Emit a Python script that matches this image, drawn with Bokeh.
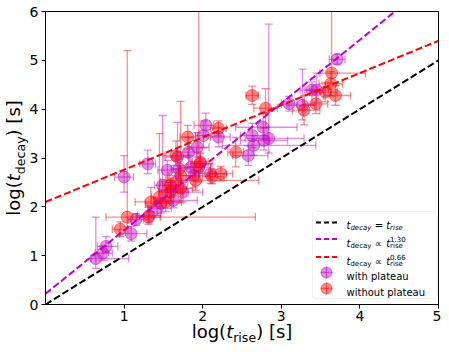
import numpy as np
from bokeh.plotting import figure
from bokeh.models import Label, BoxAnnotation, FixedTicker, Range1d, Title
from bokeh.embed import file_html
from bokeh.resources import INLINE

# ---------------- data (log10 seconds) ----------------
# with plateau
wp_x   = [0.64, 0.73, 0.77, 1.00, 1.09, 1.15, 1.30, 1.32, 1.42, 1.47, 1.49, 1.55, 1.63, 1.66, 1.68, 1.70,
          1.82, 1.85, 1.89, 1.93, 1.97, 2.01, 2.04, 2.10, 2.20, 1.75, 1.60, 2.58, 2.63, 2.65, 2.77, 2.78,
          2.84, 3.10, 3.27, 3.39, 3.45, 3.71]
wp_y   = [0.94, 1.05, 1.19, 2.61, 1.45, 1.74, 2.88, 1.82, 1.97, 2.07, 2.44, 2.75, 2.13, 2.51, 3.02, 2.78,
          3.12, 2.81, 2.64, 3.22, 2.89, 3.46, 3.67, 2.68, 3.43, 2.30, 2.35, 3.05, 3.46, 3.26, 3.63, 3.36,
          3.40, 4.11, 4.08, 4.39, 4.39, 5.02]
wp_xlo = [0.06, 0.10, 0.11, 0.12, 0.15, 0.10, 0.10, 0.15, 0.12, 0.20, 0.10, 0.12, 0.25, 0.20, 0.15, 0.10,
          0.15, 0.15, 0.20, 0.10, 0.12, 0.10, 0.15, 0.15, 0.10, 0.20, 0.15, 0.20, 0.15, 0.40, 0.35, 0.30,
          0.30, 0.10, 0.20, 0.15, 0.15, 0.10]
wp_xhi = [0.42, 0.12, 0.15, 0.12, 0.20, 0.10, 0.10, 0.15, 0.18, 0.15, 0.10, 0.15, 0.30, 0.15, 0.15, 0.20,
          0.10, 0.15, 0.20, 0.15, 0.15, 0.10, 0.10, 0.20, 0.15, 0.25, 0.20, 0.25, 0.20, 0.79, 0.43, 0.30,
          0.45, 0.10, 0.15, 0.15, 0.15, 0.10]
wp_ylo = [0.20, 0.15, 0.12, 0.31, 0.15, 0.12, 0.20, 0.15, 0.15, 0.20, 0.20, 0.20, 0.15, 0.20, 0.25, 0.20,
          0.30, 0.20, 0.25, 0.20, 0.20, 0.25, 0.20, 0.20, 0.20, 0.20, 0.15, 0.20, 0.25, 0.20, 0.25, 0.20,
          0.30, 0.15, 0.30, 0.30, 0.25, 0.10]
wp_yhi = [0.85, 0.15, 0.20, 0.44, 0.15, 0.12, 0.28, 0.20, 0.20, 0.25, 1.43, 0.20, 0.25, 0.20, 0.71, 0.20,
          0.30, 0.25, 0.25, 0.30, 0.20, 0.30, 0.25, 0.20, 0.20, 0.20, 0.15, 0.20, 0.25, 0.20, 0.30, 0.25,
          2.34, 0.15, 0.74, 0.17, 0.35, 0.10]

# without plateau
np_x   = [0.95, 1.04, 1.31, 1.34, 1.45, 1.53, 1.59, 1.59, 1.66, 1.72, 1.72, 1.81, 1.91, 1.95, 1.97, 2.12,
          2.23, 2.20, 2.42, 2.63, 2.80, 3.29, 3.44, 3.56, 3.63, 3.64, 3.69]
np_y   = [1.54, 1.79, 1.79, 2.10, 2.20, 2.10, 2.30, 2.44, 3.05, 2.38, 2.64, 3.43, 2.54, 2.81, 2.92, 2.62,
          2.68, 3.61, 3.12, 4.28, 4.02, 3.98, 4.11, 4.35, 4.52, 4.74, 4.28]
np_xlo = [0.10, 0.27, 0.15, 0.20, 0.10, 0.15, 0.15, 0.10, 0.15, 0.20, 0.15, 0.10, 0.38, 0.15, 0.10, 0.12,
          0.15, 0.10, 0.10, 0.08, 0.15, 0.15, 0.15, 0.20, 0.15, 0.15, 0.15]
np_xhi = [0.10, 1.63, 0.15, 0.20, 0.15, 0.20, 0.15, 0.10, 0.15, 0.15, 0.15, 0.10, 0.80, 0.15, 0.10, 0.15,
          0.15, 0.10, 0.10, 0.08, 0.15, 0.20, 0.15, 0.15, 0.15, 0.43, 0.19]
np_ylo = [0.15, 0.20, 0.15, 0.20, 0.20, 0.20, 0.20, 0.15, 0.20, 0.30, 0.20, 0.25, 0.20, 0.30, 0.20, 0.15,
          0.15, 0.15, 0.30, 0.18, 0.40, 0.30, 0.20, 0.20, 0.25, 0.20, 0.20]
np_yhi = [0.15, 3.41, 0.20, 0.30, 1.30, 0.20, 0.20, 0.15, 0.30, 1.78, 0.20, 0.24, 0.20, 3.50, 0.20, 0.15,
          0.15, 0.15, 0.30, 0.19, 0.40, 0.30, 0.25, 0.20, 0.25, 2.00, 0.20]

# fitted relations (end points)
fit_x     = [0.0, 5.0]
equal_y   = [0.0, 5.0]
plat_fit  = [0.22, 6.72]
nopl_fit  = [2.10, 5.40]

x_ticks = [1, 2, 3, 4, 5]
y_ticks = [0, 1, 2, 3, 4, 5, 6]

# ---------------- figure ----------------
W_FIG, H_FIG = 441, 344
ML, MR, MT, MB = 45, 3, 11, 40
FW, FH = W_FIG - ML - MR, H_FIG - MT - MB
XMAX, YMAX = 5.0, 6.0

p = figure(width=W_FIG, height=H_FIG, x_range=Range1d(0, XMAX), y_range=Range1d(0, YMAX),
           output_backend="svg", toolbar_location=None,
           min_border_left=ML, min_border_right=MR, min_border_top=MT, min_border_bottom=MB)
p.xgrid.visible = False
p.ygrid.visible = False
p.outline_line_color = "black"
p.outline_line_alpha = 1.0
p.outline_line_width = 1
p.background_fill_color = "white"
p.border_fill_color = "white"

for ax, ticks in ((p.xaxis, x_ticks), (p.yaxis, y_ticks)):
    ax.ticker = FixedTicker(ticks=ticks)
    ax.major_label_text_font = "DejaVu Sans"
    ax.major_label_text_font_size = "14px"
    ax.major_label_text_color = "black"
    ax.axis_line_color = "black"
    ax.major_tick_line_color = "black"
    ax.major_tick_out = 4
    ax.major_tick_in = 0
    ax.minor_tick_out = 0
    ax.minor_tick_in = 0
p.xaxis.major_label_standoff = 2
p.yaxis.major_label_standoff = 3

MAG = "#bf00bf"
RED = "#ff0000"
A = 0.45


def draw_series(x, y, xlo, xhi, ylo, yhi, color):
    x, y = np.array(x), np.array(y)
    xlo, xhi, ylo, yhi = map(np.array, (xlo, xhi, ylo, yhi))
    p.segment(x0=x - xlo, y0=y, x1=x + xhi, y1=y, line_color=color, line_alpha=A, line_width=1.3)
    p.segment(x0=x, y0=y - ylo, x1=x, y1=y + yhi, line_color=color, line_alpha=A, line_width=1.3)
    p.scatter(x=np.concatenate([x, x]), y=np.concatenate([y - ylo, y + yhi]), marker="dash",
              size=8, line_color=color, line_alpha=A, line_width=1.3)
    p.scatter(x=np.concatenate([x - xlo, x + xhi]), y=np.concatenate([y, y]), marker="dash",
              angle=np.pi / 2, size=8, line_color=color, line_alpha=A, line_width=1.3)
    p.scatter(x=x, y=y, size=12, fill_color=color, fill_alpha=A, line_color=color, line_alpha=A)


draw_series(wp_x, wp_y, wp_xlo, wp_xhi, wp_ylo, wp_yhi, MAG)
draw_series(np_x, np_y, np_xlo, np_xhi, np_ylo, np_yhi, RED)

p.line(fit_x, equal_y, line_color="black", line_dash="7 3", line_width=2)
p.line(fit_x, plat_fit, line_color=MAG, line_dash="7 3", line_width=2)
p.line(fit_x, nopl_fit, line_color=RED, line_dash="7 3", line_width=2)

# ---------------- text helpers ----------------
CW = {'l': .278, 'o': .612, 'g': .635, '(': .390, ')': .390, 't': .392, 'r': .411, 'i': .278,
      's': .521, 'e': .615, 'd': .635, 'c': .550, 'a': .613, 'y': .592, '[': .390, ']': .390,
      ' ': .318, '=': .838, '\u221d': .838, '1': .636, '.': .318, '3': .636, '0': .636, '6': .636,
      'w': .818, 'h': .634, 'p': .635, 'u': .634, 'n': .634}


def tw(s, size):
    return sum(CW.get(c, 0.6) for c in s) * size


def put(x, y, s, size, italic=False):
    p.add_layout(Label(x=x, y=y, x_units="screen", y_units="screen", text=s,
                       text_font="DejaVu Sans", text_font_size=f"{size}px",
                       text_font_style="italic" if italic else "normal",
                       text_color="black", text_align="left", text_baseline="alphabetic"))


def side_text(side, s, size, offset, standoff, italic=False, valign="middle"):
    p.add_layout(Title(text=s, align="left", offset=offset, vertical_align=valign,
                       standoff=int(standoff), text_font="DejaVu Sans",
                       text_font_size=f"{size}px",
                       text_font_style="italic" if italic else "normal",
                       text_color="black"), side)


def px2x(px):
    return px / FW * XMAX


def px2y(py):
    return py / FH * YMAX


FS, SS = 18, 12.6
ZERO_MAIN = -23      # makes a main-size title take no room of its own

# x axis label: log(t_rise) [s]
L = tw("log(", FS) + tw("t", FS) + tw("rise", SS) + tw(") [s]", FS)
x0 = FW / 2 - L / 2
xs = [x0, x0 + tw("log(", FS), x0 + tw("log(", FS) + tw("t", FS),
      x0 + tw("log(", FS) + tw("t", FS) + tw("rise", SS)]
side_text("below", "\u00a0", 4, 0, 1)          # gap under the tick labels
side_text("below", "log(", FS, xs[0], ZERO_MAIN)
side_text("below", "t", FS, xs[1], ZERO_MAIN, italic=True)
side_text("below", ") [s]", FS, xs[3], ZERO_MAIN)
side_text("below", "rise", SS, xs[2], -6)

# y axis label: log(t_decay) [s]
L = tw("log(", FS) + tw("t", FS) + tw("decay", SS) + tw(") [s]", FS)
y0 = FH / 2 - L / 2
ys = [y0, y0 + tw("log(", FS), y0 + tw("log(", FS) + tw("t", FS),
      y0 + tw("log(", FS) + tw("t", FS) + tw("decay", SS)]
side_text("left", "decay", SS, ys[2], -4)
side_text("left", "log(", FS, ys[0], ZERO_MAIN)
side_text("left", "t", FS, ys[1], ZERO_MAIN, italic=True)
side_text("left", ") [s]", FS, ys[3], ZERO_MAIN)

# ---------------- legend (drawn by hand) ----------------
p.add_layout(BoxAnnotation(left=267, right=392, bottom=6, top=93,
                           left_units="screen", right_units="screen",
                           bottom_units="screen", top_units="screen",
                           fill_color="white", fill_alpha=0.8, line_color="#d0d0d0",
                           line_width=1, border_radius=3, level="underlay"))

LX0, LX1, LXM, TX = 270.5, 291.5, 281, 301
rows_line = [(82, "black"), (65.5, MAG), (47.5, RED)]
for ry, col in rows_line:
    p.line([px2x(LX0), px2x(LX1)], [px2y(ry), px2y(ry)], line_color=col, line_dash="5 3", line_width=2)

for ry, col in ((32, MAG), (16, RED)):
    cx, cyy = px2x(LXM), px2y(ry)
    p.segment(x0=[px2x(LXM - 6)], y0=[cyy], x1=[px2x(LXM + 6)], y1=[cyy], line_color=col, line_alpha=A, line_width=1.3)
    p.segment(x0=[cx], y0=[px2y(ry - 6)], x1=[cx], y1=[px2y(ry + 6)], line_color=col, line_alpha=A, line_width=1.3)
    p.scatter(x=[cx], y=[cyy], size=11, fill_color=col, fill_alpha=A, line_color=col, line_alpha=A)

LF, LS = 10, 7
# row 1: t_decay = t_rise
b = 79
x = TX
put(x, b, "t", LF, italic=True); x += tw("t", LF)
put(x, b - 2.5, "decay", LS, italic=True); x += tw("decay", LS) + tw(" ", LF)
put(x, b, "=", LF); x += tw("=", LF) + tw(" ", LF)
put(x, b, "t", LF, italic=True); x += tw("t", LF)
put(x, b - 2.5, "rise", LS, italic=True)

# rows 2, 3: t_decay ∝ t_rise^k
for b, k in ((61.5, "1.30"), (43.5, "0.66")):
    x = TX
    put(x, b, "t", LF, italic=True); x += tw("t", LF)
    put(x, b - 2.5, "decay", LS); x += tw("decay", LS) + tw(" ", LF)
    put(x, b, "\u221d", LF); x += tw("\u221d", LF) + tw(" ", LF)
    put(x, b, "t", LF, italic=True); x += tw("t", LF)
    put(x, b - 3, "rise", LS)
    put(x, b + 4.5, k, LS)

put(TX, 28.5, "with plateau", LF)
put(TX, 12.5, "without plateau", LF)

open("out.html", "w").write(file_html(p, INLINE))
